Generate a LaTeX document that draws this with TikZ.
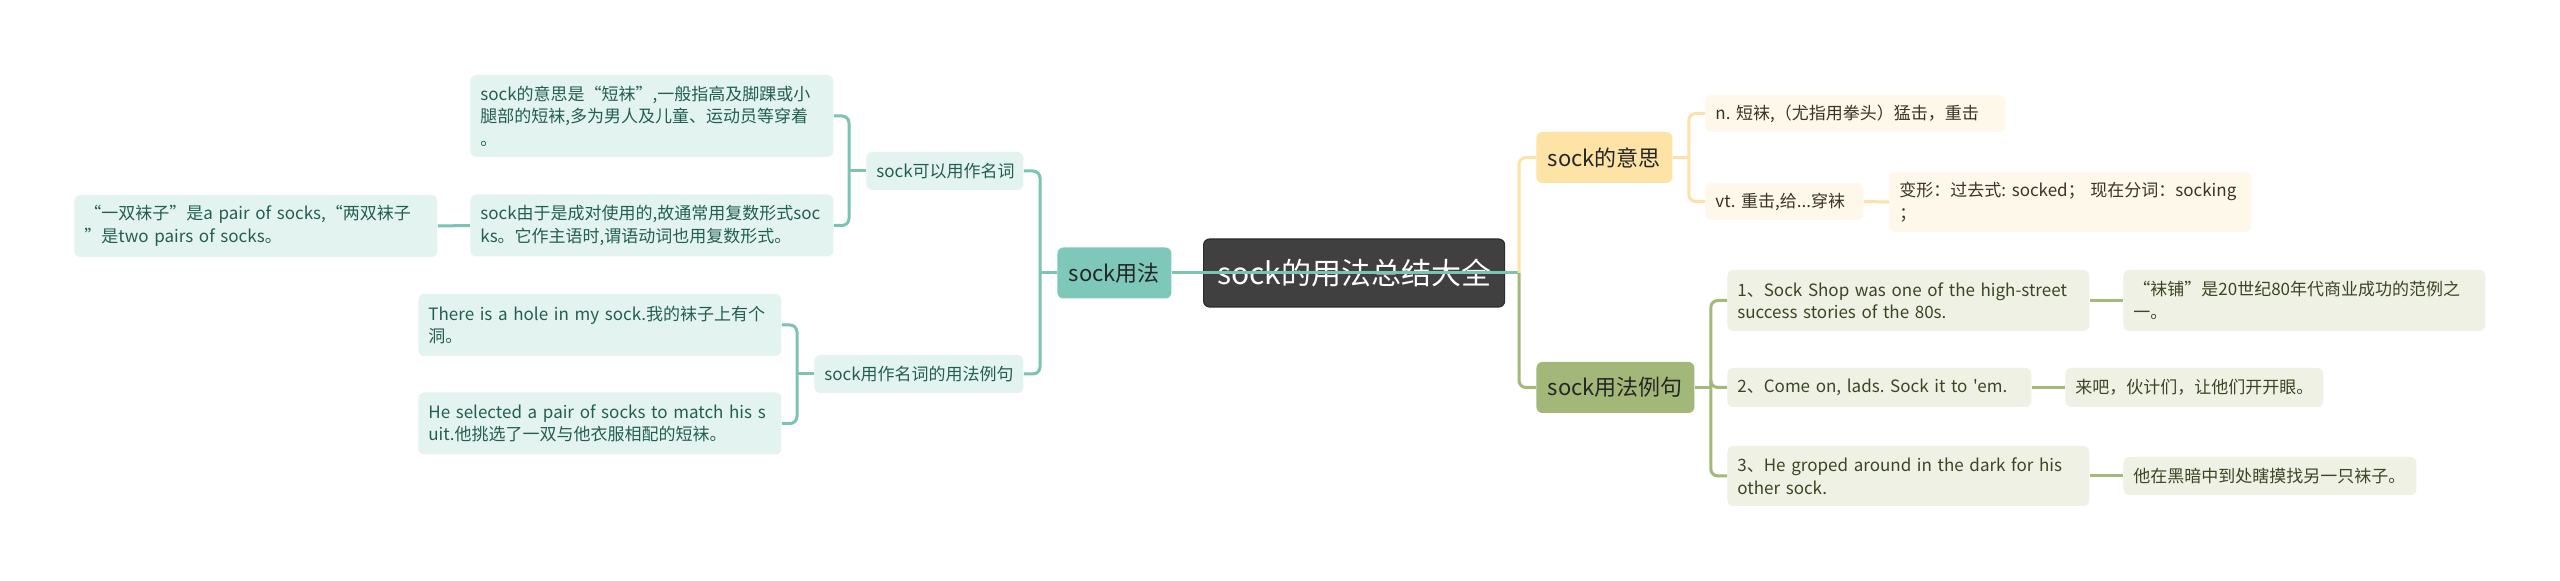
\documentclass[tikz,border=0pt]{standalone}
\usepackage{fontspec}
\newfontfamily\cjk{Noto Sans CJK SC}
\newcommand\rootfnt{\cjk\fontsize{15}{18}\selectfont}
\newcommand\branchfnt{\cjk\fontsize{11}{13}\selectfont}
\newcommand\leaffnt{\cjk\fontsize{8.5}{11.25}\selectfont\frenchspacing}
\definecolor{cRoot}{HTML}{404040}
\definecolor{cRootEdge}{HTML}{2C2C2C}
\definecolor{cTeal}{HTML}{7DC8B8}
\definecolor{cTealL}{HTML}{E3F4F0}
\definecolor{cTealT}{HTML}{235E52}
\definecolor{cTealLn}{HTML}{7CC3B3}
\definecolor{cYel}{HTML}{FDE3A6}
\definecolor{cYelL}{HTML}{FEF8EA}
\definecolor{cYelT}{HTML}{3A3428}
\definecolor{cYelLn}{HTML}{FCE2A8}
\definecolor{cGrn}{HTML}{A3B878}
\definecolor{cGrnL}{HTML}{EEF1E4}
\definecolor{cGrnT}{HTML}{3B4624}
\definecolor{cGrnLn}{HTML}{A4B87A}

\begin{document}
\begin{tikzpicture}[x=0.5pt,y=-0.5pt,
  box/.style={rounded corners=3pt,inner xsep=5pt,inner ysep=0pt,anchor=west},
  rootnode/.style={box,fill=cRoot,draw=cRootEdge,line width=0.6pt,text=white,font=\rootfnt,minimum width=150.5pt,minimum height=34pt},
  branch/.style={box,font=\branchfnt,minimum height=25.5pt,align=center},
  leaf/.style={box,font=\leaffnt,align=left},
  tealbranch/.style={branch,fill=cTeal,text=black!85},
  yelbranch/.style={branch,fill=cYel,text=black!85},
  grnbranch/.style={branch,fill=cGrn,text=black!85},
  tealleaf/.style={leaf,fill=cTealL,text=cTealT},
  yelleaf/.style={leaf,fill=cYelL,text=cYelT},
  grnleaf/.style={leaf,fill=cGrnL,text=cGrnT},
  tealline/.style={draw=cTealLn,line width=1.5pt},
  yelline/.style={draw=cYelLn,line width=1.5pt},
  grnline/.style={draw=cGrnLn,line width=1.5pt}]
{
\fill[white] (0,0) rectangle (2560,581);
%
\node[rootnode] (root) at (1203,273) {sock的用法总结大全};
\coordinate (hub) at (1519,273);
\node[tealbranch,minimum width=57pt] (usage) at (1057,273) {sock用法};
\node[yelbranch,minimum width=68pt] (meaning) at (1536,157.5) {sock的意思};
\node[grnbranch,minimum width=79pt] (examples) at (1536,387.5) {sock用法例句};
%
\node[tealleaf,text width=68.5pt,minimum height=19pt] (noun) at (866,171) {sock可以用作名词};
\node[tealleaf,text width=94.5pt,minimum height=19pt] (nounEx) at (814,374) {sock用作名词的用法例句};
\node[tealleaf,text width=171.5pt,minimum height=41pt] (a1) at (470,116) {sock的意思是“短袜”,一般指高及脚踝或小\\腿部的短袜,多为男人及儿童、运动员等穿着\\。};
\node[tealleaf,text width=171.5pt,minimum height=31pt] (a2) at (470,225.5) {sock由于是成对使用的,故通常用复数形式soc\\ks。它作主语时,谓语动词也用复数形式。};
\node[tealleaf,text width=171.5pt,minimum height=31pt] (a3) at (74,226) {“一双袜子”是a pair of socks,“两双袜子\\”是two pairs of socks。};
\node[tealleaf,text width=171.5pt,minimum height=31pt] (b1) at (418,325) {There is a hole in my sock.我的袜子上有个\\洞。};
\node[tealleaf,text width=171.5pt,minimum height=31pt] (b2) at (418,423.5) {He selected a pair of socks to match his s\\uit.他挑选了一双与他衣服相配的短袜。};
%
\node[yelleaf,text width=140pt,minimum height=18.5pt] (mN) at (1705,113.5) {n. 短袜,（尤指用拳头）猛击，重击};
\node[yelleaf,text width=69pt,minimum height=18.5pt] (mV) at (1705,201.5) {vt. 重击,给...穿袜};
\node[yelleaf,text width=171pt,minimum height=30pt] (mF) at (1889,202) {变形：过去式: socked； 现在分词：socking\\；};
%
\node[grnleaf,text width=171pt,minimum height=30.5pt] (e1) at (1727,300.5) {1、Sock Shop was one of the high-street\\success stories of the 80s.};
\node[grnleaf,text width=142pt,minimum height=19.5pt] (e2) at (1727,387.5) {2、Come on, lads. Sock it to 'em.};
\node[grnleaf,text width=171pt,minimum height=30pt] (e3) at (1727,476) {3、He groped around in the dark for his\\other sock.};
\node[grnleaf,text width=171pt,minimum height=30.5pt] (t1) at (2123,300.5) {“袜铺”是20世纪80年代商业成功的范例之\\一。};
\node[grnleaf,text width=119pt,minimum height=19.5pt] (t2) at (2065,387.5) {来吧，伙计们，让他们开开眼。};
\node[grnleaf,text width=136.5pt,minimum height=19pt] (t3) at (2123,476) {他在黑暗中到处瞎摸找另一只袜子。};
%
\draw[tealline] (hub) -- (usage.east);
\draw[tealline] (usage.west) -- (1040,273) coordinate (jL);
\draw[tealline,rounded corners=3.5pt] (jL) |- (noun.east);
\draw[tealline,rounded corners=3.5pt] (jL) |- (nounEx.east);
\draw[tealline] (noun.west) -- ++(-17,0) coordinate (jN);
\draw[tealline,rounded corners=3.5pt] (jN) |- (a1.east);
\draw[tealline,rounded corners=3.5pt] (jN) |- (a2.east);
\draw[tealline] (a2.west) -- (a3.east);
\draw[tealline] (nounEx.west) -- ++(-17,0) coordinate (jE);
\draw[tealline,rounded corners=3.5pt] (jE) |- (b1.east);
\draw[tealline,rounded corners=3.5pt] (jE) |- (b2.east);
%
\draw[yelline,rounded corners=3.5pt] (hub) |- (meaning.west);
\draw[yelline] (meaning.east) -- ++(16,0) coordinate (jM);
\draw[yelline,rounded corners=3.5pt] (jM) |- (mN.west);
\draw[yelline,rounded corners=3.5pt] (jM) |- (mV.west);
\draw[yelline] (mV.east) -- (mF.west);
%
\draw[grnline,rounded corners=3.5pt] (hub) |- (examples.west);
\draw[grnline] (examples.east) -- ++(16,0) coordinate (jX);
\foreach \n in {1,2,3}{
\draw[grnline,rounded corners=3.5pt] (jX) |- (e\n.west);
\draw[grnline] (e\n.east) -- (t\n.west);
}
}
\end{tikzpicture}
\end{document}
